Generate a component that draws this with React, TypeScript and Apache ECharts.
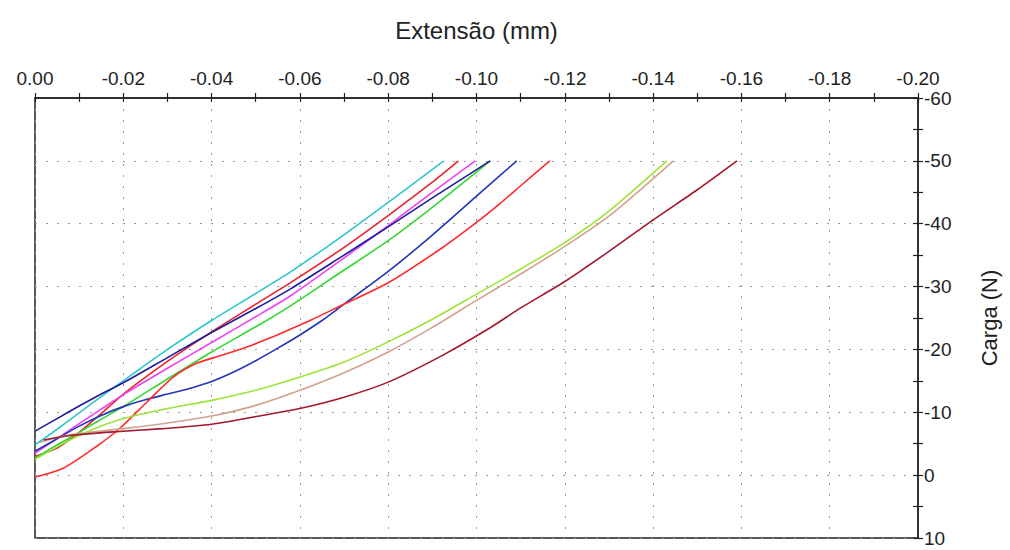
import React, { useEffect, useRef } from "react";
import * as echarts from "echarts";

// Extensão (mm) vs Carga (N) for each specimen
const cyanData = [[0,-4.8],[-0.005,-7.3],[-0.01,-9.9],[-0.015,-12.5],[-0.02,-15.0],[-0.03,-20.0],[-0.04,-24.6],[-0.05,-28.9],[-0.0578,-32.3],[-0.0691,-37.8],[-0.08,-43.4],[-0.0926,-50]];
const red1Data = [[0,-3.0],[-0.005,-4.3],[-0.01,-6.8],[-0.015,-9.8],[-0.02,-12.9],[-0.03,-18.1],[-0.04,-22.8],[-0.05,-27.2],[-0.0578,-30.6],[-0.0691,-35.8],[-0.08,-41.3],[-0.09,-46.6],[-0.0959,-50]];
const magentaData = [[0,-3.5],[-0.005,-5.8],[-0.01,-8.2],[-0.015,-10.5],[-0.02,-12.8],[-0.03,-17.0],[-0.04,-21.1],[-0.05,-25.2],[-0.0578,-28.5],[-0.0691,-34.1],[-0.08,-39.7],[-0.09,-45.0],[-0.0997,-50]];
const navyData = [[0,-7.0],[-0.005,-9.0],[-0.01,-11.0],[-0.015,-12.9],[-0.02,-14.7],[-0.03,-18.7],[-0.04,-22.7],[-0.05,-26.5],[-0.0578,-29.6],[-0.0691,-34.6],[-0.08,-39.5],[-0.09,-44.1],[-0.1031,-50]];
const greenData = [[0,-2.7],[-0.005,-4.8],[-0.01,-6.8],[-0.015,-8.9],[-0.02,-10.9],[-0.03,-15.3],[-0.04,-19.6],[-0.05,-23.6],[-0.0578,-26.9],[-0.0691,-32.2],[-0.08,-37.3],[-0.09,-42.6],[-0.1031,-50]];
const blueData = [[0,-3.8],[-0.005,-5.8],[-0.01,-7.8],[-0.015,-9.5],[-0.02,-10.9],[-0.025,-12.0],[-0.03,-12.9],[-0.035,-13.8],[-0.04,-14.9],[-0.045,-16.4],[-0.05,-18.2],[-0.055,-20.2],[-0.06,-22.3],[-0.065,-24.6],[-0.07,-27.2],[-0.08,-32.4],[-0.09,-38.2],[-0.1,-44.4],[-0.1091,-50]];
const red2Data = [[0,0.3],[-0.0064,-1.1],[-0.014,-4.6],[-0.0193,-7.5],[-0.0253,-11.6],[-0.0313,-15.6],[-0.0366,-17.8],[-0.042,-19.0],[-0.0472,-20.2],[-0.0532,-21.8],[-0.0578,-23.2],[-0.0623,-24.6],[-0.0691,-26.9],[-0.08,-30.6],[-0.0925,-36.3],[-0.1,-40.2],[-0.1053,-43.2],[-0.1106,-46.4],[-0.1166,-50]];
const yellowGreenData = [[0,-2.5],[-0.005,-4.5],[-0.01,-6.3],[-0.015,-7.8],[-0.02,-9.0],[-0.03,-10.6],[-0.04,-11.9],[-0.05,-13.5],[-0.06,-15.6],[-0.07,-18.0],[-0.08,-21.2],[-0.09,-24.8],[-0.1,-28.8],[-0.11,-32.8],[-0.12,-37.0],[-0.13,-42.0],[-0.1431,-50]];
const tanData = [[-0.001,-5.2],[-0.005,-6.0],[-0.01,-6.6],[-0.02,-7.4],[-0.03,-8.3],[-0.04,-9.4],[-0.05,-11.1],[-0.06,-13.5],[-0.07,-16.3],[-0.08,-19.6],[-0.09,-23.5],[-0.1,-27.8],[-0.11,-32.0],[-0.12,-36.4],[-0.13,-41.2],[-0.1446,-50]];
const maroonData = [[-0.002,-5.6],[-0.008,-6.3],[-0.016,-6.8],[-0.029,-7.4],[-0.04,-8.1],[-0.053,-9.7],[-0.06,-10.6],[-0.07,-12.4],[-0.08,-14.8],[-0.0924,-19.1],[-0.103,-23.4],[-0.11,-26.6],[-0.12,-30.8],[-0.13,-35.6],[-0.14,-40.6],[-0.15,-45.4],[-0.159,-50]];

const seriesList = [
  { name: "A", data: cyanData, color: "#2cc6cc" },
  { name: "B", data: red1Data, color: "#e8222e" },
  { name: "C", data: magentaData, color: "#f040f0" },
  { name: "D", data: greenData, color: "#33d633" },
  { name: "E", data: navyData, color: "#1c1c9c" },
  { name: "F", data: blueData, color: "#2436b8" },
  { name: "G", data: red2Data, color: "#ff2a2a" },
  { name: "H", data: tanData, color: "#d2a28e" },
  { name: "I", data: yellowGreenData, color: "#9ee23a" },
  { name: "J", data: maroonData, color: "#a2182c" },
];

const FONT = "Liberation Sans, Arial, sans-serif";
const INK = "#222";

export default function App() {
  const ref = useRef<HTMLDivElement>(null);
  useEffect(() => {
    if (!ref.current) return;
    const chart = echarts.init(ref.current, null, { renderer: "svg" });
    const gridSplit = { show: true, lineStyle: { color: "#9a9a9a", type: [2, 9] as any, width: 1 } };
    const tickStyle = { color: INK, width: 1.2 };
    chart.setOption({
      animation: false,
      backgroundColor: "#ffffff",
      grid: { left: 35, right: 92, top: 98, bottom: 12, show: true, borderColor: INK, borderWidth: 1.5, containLabel: false },
      xAxis: [
        {
          type: "value", position: "top", inverse: true, min: -0.2, max: 0, interval: 0.02,
          name: "Extensão (mm)", nameLocation: "middle", nameGap: 56,
          nameTextStyle: { fontFamily: FONT, fontSize: 24, color: INK },
          axisLine: { show: true, onZero: false, lineStyle: { color: INK, width: 1.5 } },
          axisTick: { show: true, length: 5, lineStyle: tickStyle },
          minorTick: { show: true, splitNumber: 2, length: 5, lineStyle: tickStyle },
          axisLabel: { fontFamily: FONT, fontSize: 19, color: INK, margin: 10, formatter: (v: number) => (v === 0 ? "0.00" : v.toFixed(2)) },
          splitLine: gridSplit,
        },
        {
          type: "value", position: "top", inverse: true, min: -0.2, max: 0, interval: 0.02,
          axisLine: { show: false, onZero: false },
          axisTick: { show: true, inside: true, length: 4, lineStyle: tickStyle },
          minorTick: { show: true, splitNumber: 2, length: 4, lineStyle: tickStyle },
          axisLabel: { show: false }, splitLine: { show: false },
        },
      ],
      yAxis: [
        {
          type: "value", position: "right", inverse: true, min: -60, max: 10, interval: 10,
          name: "Carga (N)", nameLocation: "middle", nameGap: 60, nameRotate: 90,
          nameTextStyle: { fontFamily: FONT, fontSize: 22, color: INK },
          axisLine: { show: true, onZero: false, lineStyle: { color: INK, width: 1.5 } },
          axisTick: { show: true, length: 5, lineStyle: tickStyle },
          minorTick: { show: true, splitNumber: 2, length: 5, lineStyle: tickStyle },
          axisLabel: { fontFamily: FONT, fontSize: 19, color: INK, margin: 6 },
          splitLine: gridSplit,
        },
        {
          type: "value", position: "right", inverse: true, min: -60, max: 10, interval: 10,
          axisLine: { show: false, onZero: false },
          axisTick: { show: true, inside: true, length: 5, lineStyle: tickStyle },
          minorTick: { show: true, splitNumber: 2, length: 5, lineStyle: tickStyle },
          axisLabel: { show: false }, splitLine: { show: false },
        },
      ],
      series: seriesList.map((s) => ({
        name: s.name, type: "line", xAxisIndex: 0, yAxisIndex: 0, data: s.data,
        showSymbol: false, smooth: 0.25,
        lineStyle: { color: s.color, width: 1.6 }, itemStyle: { color: s.color },
      })),
    });
    return () => chart.dispose();
  }, []);
  return <div ref={ref} style={{ position: "fixed", left: 0, top: 0, width: 1010, height: 550 }} />;
}
